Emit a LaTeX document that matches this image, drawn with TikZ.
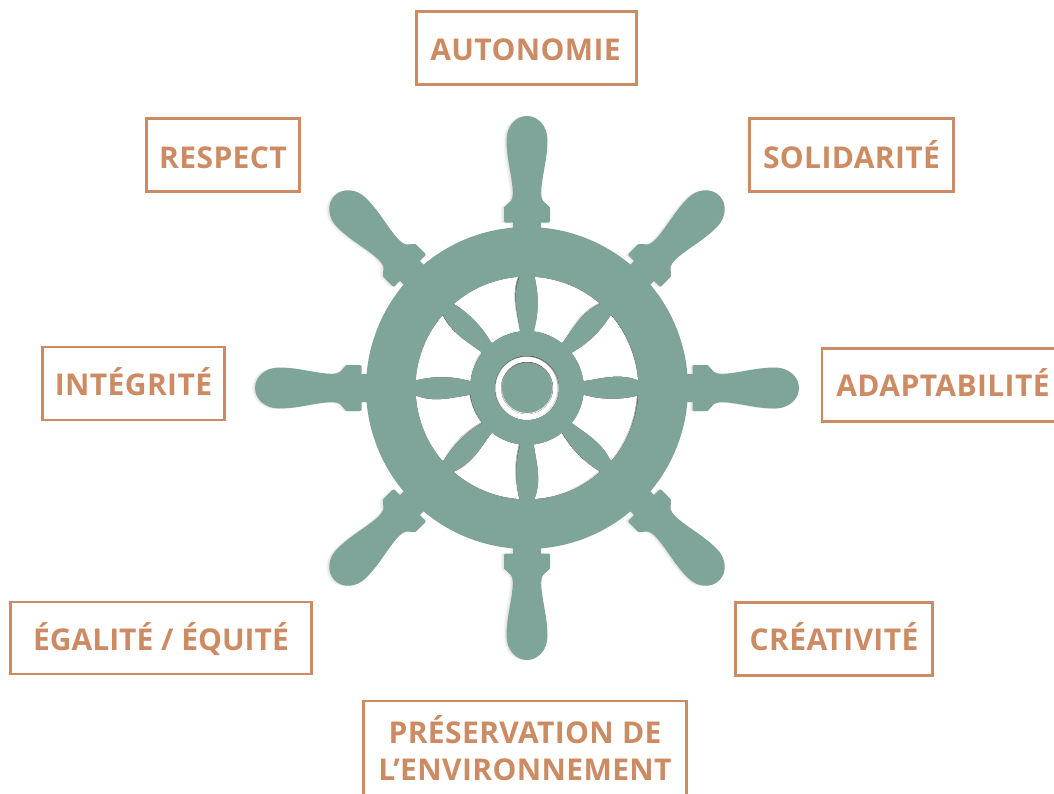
\documentclass[tikz,border=0pt]{standalone}
\usepackage{fontspec}
\setmainfont{Open Sans}
\definecolor{wheel}{HTML}{7FA59A}
\definecolor{tag}{HTML}{CC8B63}
\definecolor{shade}{HTML}{DDE1DF}
\tikzset{
  x=1pt,y=1pt,
  tagbox/.style={draw=tag,line width=2.6pt,text=tag,font=\fontsize{30}{37}\selectfont\bfseries\addfontfeature{LetterSpace=1.3},align=center,inner sep=0pt,anchor=center},
  oneline/.style={tagbox,text height=21.4pt,text depth=0pt},
  wheelfill/.style={fill=wheel,draw=none},
}
\newcommand{\windowpath}{(86:111.3) arc[start angle=86,end angle=49,radius=111.3]
  .. controls (54.2:93.8) and (52.4:76) .. (52:57)
  arc[start angle=52,end angle=83,radius=57]
  .. controls (80.8:76) and (82.6:93.8) .. (86:111.3) -- cycle}
\newcommand{\handlepath}{(-14,150) -- (-14,165.5) -- (-22,165.5) .. controls (-23,165.5) .. (-23,167) -- (-23,179)
  .. controls (-23,181) .. (-21,182.5) -- (-16,187) .. controls (-13.5,191) and (-14,198) .. (-15,205)
  .. controls (-17,220) and (-20.5,232) .. (-20.5,248) .. controls (-20.5,262) and (-11,272) .. (0,272)
  .. controls (11,272) and (20.5,262) .. (20.5,248) .. controls (20.5,232) and (17,220) .. (15,205)
  .. controls (14,198) and (13.5,191) .. (16,187) -- (21,182.5) .. controls (23,181) .. (23,179) -- (23,167)
  .. controls (23,165.5) .. (22,165.5) -- (14,165.5) -- (14,150) -- cycle}
\begin{document}
\begin{tikzpicture}
\useasboundingbox (0,0) rectangle (1054,-793);
\clip (0,0) rectangle (1054,-793);
\fill[white] (0,0) rectangle (1054,-793);
\begin{scope}[shift={(527,-388)}]
  \foreach \a in {0,45,...,315}{
    \fill[black,opacity=.05,shift={(-3,-0.5)},rotate=\a] \handlepath;
    \fill[black,opacity=.05,shift={(-1.5,-0.2)},rotate=\a] \handlepath;
  }
  \foreach \a in {0,45,...,315}{
    \fill[wheelfill,rotate=\a] \handlepath;
  }
  \fill[wheelfill] (0,0) circle[radius=161];
  \foreach \a in {0,45,...,315}{
    \begin{scope}[rotate=\a]
      \fill[shade] \windowpath;
    \end{scope}
    \begin{scope}
      \clip[rotate=\a] \windowpath;
      \fill[white,shift={(-1,1)},rotate=\a] \windowpath;
    \end{scope}
  }
  \fill[shade] (0,0) circle[radius=32];
  \fill[white] (-0.4,0.4) circle[radius=30.8];
  \fill[shade] (0,0) circle[radius=26];
  \fill[wheelfill] (0,0) circle[radius=25];
\end{scope}
\node[oneline,minimum width=220,minimum height=73] (autonomie) at (526.5,-48) {\hspace{-2pt}\raisebox{-2pt}{AUTONOMIE}};
\node[oneline,minimum width=153,minimum height=73] (respect) at (223,-155) {\raisebox{-2.5pt}{RESPECT}};
\node[oneline,minimum width=204,minimum height=73] (solidarite) at (851.5,-155) {\raisebox{-2.5pt}{SOLIDARITÉ}};
\node[oneline,minimum width=182,minimum height=73] (integrite) at (133.5,-383.5) {\raisebox{-1.5pt}{INTÉGRITÉ}};
\node[oneline,minimum width=242,minimum height=73] (adaptabilite) at (943,-385) {\raisebox{-1pt}{ADAPTABILITÉ}};
\node[oneline,minimum width=301,minimum height=72] (egalite) at (161,-638) {\addfontfeature{LetterSpace=0}\raisebox{-2pt}{ÉGALITÉ / ÉQUITÉ}};
\node[oneline,minimum width=197,minimum height=73] (creativite) at (834,-639) {\raisebox{-1pt}{CRÉATIVITÉ}};
\node[tagbox,minimum width=323,minimum height=95] (preservation) at (525,-748.5) {PRÉSERVATION DE\\L’ENVIRONNEMENT};
\end{tikzpicture}
\end{document}
